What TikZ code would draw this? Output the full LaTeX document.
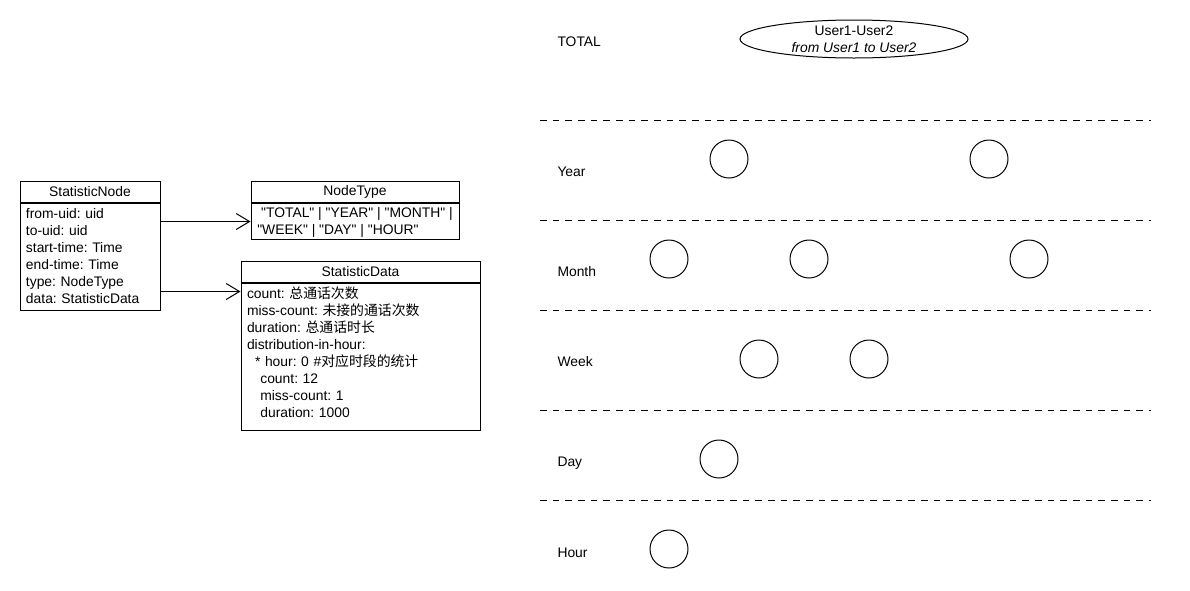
\documentclass[tikz,border=0pt]{standalone}
\usepackage{fontspec}
\setmainfont{Liberation Sans}
\newfontfamily\cjk{Noto Sans CJK SC}
\usetikzlibrary{positioning,calc,arrows.meta,shapes.geometric}
\frenchspacing

\begin{document}
\begin{tikzpicture}[x=0.75pt, y=-0.75pt, line width=0.75pt,
	font=\fontsize{10.4}{12.75}\selectfont,
	head/.style={draw, minimum height=15.75pt, inner sep=0pt},
	body/.style={draw, align=left, inner xsep=4.5pt, inner ysep=0pt},
	inst/.style={draw, circle, minimum size=28.5pt, inner sep=0pt},
	lane/.style={anchor=west, inner sep=0pt},
	sep/.style={dash pattern=on 5pt off 4.5pt},
	uses/.style={-{Straight Barb[length=10pt, width=12pt]}}]
	\useasboundingbox (0,0) rectangle (1190,590);
	\node[head, minimum width=105pt] (sn) at (90,191.5) {StatisticNode};
	\node[body, below=0pt of sn, text width=96pt, text height=11.25pt, text depth=69pt] (snb) {from-uid: uid\\to-uid: uid\\start-time: Time\\end-time: Time\\type: NodeType\\data: StatisticData};
	\node[head, minimum width=156pt] (nt) at (355,192) {NodeType};
	\node[body, below=0pt of nt, minimum width=156pt, text height=23.25pt, text depth=3.75pt] (ntb) {\hspace{2.9pt}\textquotedbl TOTAL\textquotedbl{} | \textquotedbl YEAR\textquotedbl{} | \textquotedbl MONTH\textquotedbl{} |\\\textquotedbl WEEK\textquotedbl{} | \textquotedbl DAY\textquotedbl{} | \textquotedbl HOUR\textquotedbl};
	\node[head, minimum width=179.25pt] (sd) at (360.5,271.5) {StatisticData};
	\node[body, below=0pt of sd, text width=170.25pt, text height=11.25pt, text depth=99pt] (sdb) {count: {\cjk 总通话次数}\\miss-count: {\cjk 未接的通话次数}\\duration: {\cjk 总通话时长}\\distribution-in-hour:\\\hspace{6pt}* hour: 0 \#{\cjk 对应时段的统计}\\\hspace{10pt}count: 12\\\hspace{10pt}miss-count: 1\\\hspace{10pt}duration: 1000};
	\draw[uses] (snb.east |- ntb.west) -- (ntb.west);
	\draw[uses] ($(snb.north east)+(0,89)$) -- ($(sdb.north west)+(0,9)$);
	\foreach \y in {120,220,310,410,500} {
		\draw[sep] (540,\y) -- (845,\y);
		\draw[sep] (845,\y) -- (1151,\y);
	}
	\node[lane] (total) at (557,42) {TOTAL};
	\node[lane] (year) at (557,172) {Year};
	\node[lane] (month) at (557,272) {Month};
	\node[lane] (week) at (557,362) {Week};
	\node[lane] (day) at (557,463) {Day};
	\node[lane] (hour) at (557,553) {Hour};
	\node[draw, ellipse, minimum width=171pt, minimum height=28.5pt, inner sep=0pt, align=center] (root) at (854,39) {User1-User2\\\textit{from User1 to User2}};
	\node[inst] (0) at (729,159) {};
	\node[inst] (1) at (989,159) {};
	\node[inst] (2) at (669,259) {};
	\node[inst] (3) at (809,259) {};
	\node[inst] (4) at (1029,259) {};
	\node[inst] (5) at (759,359) {};
	\node[inst] (6) at (869,359) {};
	\node[inst] (7) at (719,459) {};
	\node[inst] (8) at (669,549) {};
\end{tikzpicture}
\end{document}
